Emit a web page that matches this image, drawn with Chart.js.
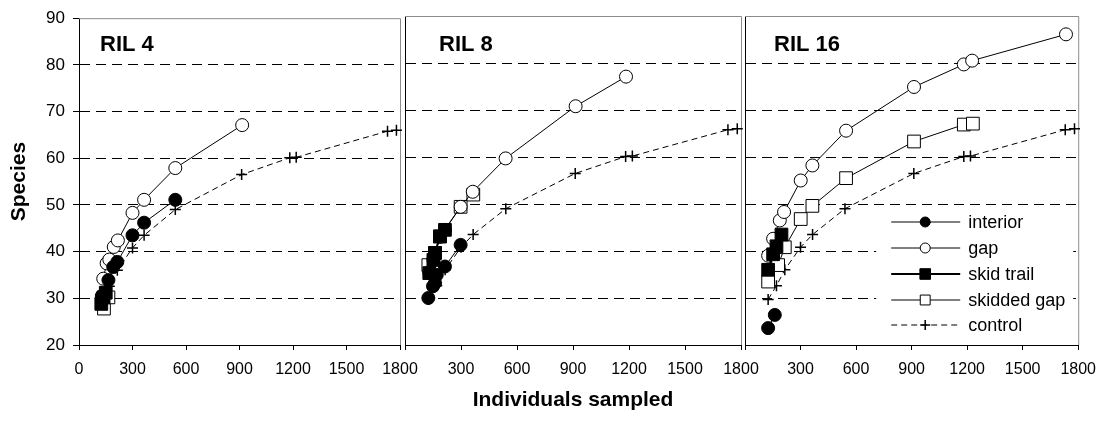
<!DOCTYPE html>
<html>
<head>
<meta charset="utf-8">
<script src="https://cdn.jsdelivr.net/npm/chart.js@4.4.0/dist/chart.umd.min.js"></script>
<style>
  html, body { margin: 0; padding: 0; background: #fff; overflow: hidden; }
  #wrap { position: relative; width: 1106px; height: 421px; }
  .panel { position: absolute; top: 0; height: 421px; }
</style>
</head>
<body>
<div id="wrap">
  <div class="panel" style="left:0;width:430px"><canvas id="c1"></canvas></div>
  <div class="panel" style="left:395px;width:376px"><canvas id="c2"></canvas></div>
  <div class="panel" style="left:735px;width:371px"><canvas id="c3"></canvas></div>
</div>
<script>
/* 種數累積曲線：三個面板 RIL 4 / RIL 8 / RIL 16 */

var X_MIN = 0, X_MAX = 1800, X_STEP = 300;
var Y_MIN = 20, Y_MAX = 90, Y_STEP = 10;
var SERIES_NAMES = ['interior', 'gap', 'skid trail', 'skidded gap', 'control'];
var PANEL_TITLES = ['RIL 4', 'RIL 8', 'RIL 16'];

// control 在三個面板相同
var control = [[125, 29.7], [170, 32.6], [215, 36], [300, 40.8], [365, 43.5], [540, 49],
               [912, 56.5], [1182, 60.1], [1218, 60.2], [1730, 65.8], [1780, 66]];

var ril4Interior   = [[128, 30.5], [165, 33.9], [192, 36.7], [215, 37.8], [300, 43.5], [365, 46.2], [540, 51.1]];
var ril4Gap        = [[136, 34.2], [155, 37.5], [170, 38.3], [195, 41], [218, 42.4], [300, 48.3], [365, 51.1], [540, 57.9], [915, 67.1]];
var ril4SkidTrail  = [[125, 28.8], [138, 30.2], [150, 31.2]];
var ril4SkiddedGap = [[140, 27.8], [165, 30.2]];

var ril8Interior   = [[125, 30], [150, 32.5], [161, 33.2], [170, 34.9], [214, 36.7], [298, 41.3]];
var ril8Gap        = [[130, 35.5], [152, 38.1], [187, 43], [214, 44.5], [298, 49.4], [363, 52.6], [539, 59.7], [914, 70.8], [1184, 77.1]];
var ril8SkidTrail  = [[130, 35.3], [152, 38.1], [161, 39.6], [187, 43.1], [214, 44.5]];
var ril8SkiddedGap = [[125, 37], [161, 39.6], [187, 43.1], [298, 49.4], [366, 52]];

var ril16Interior   = [[125, 23.6], [161, 26.4]];
var ril16Gap        = [[125, 39], [152, 42.6], [188, 46.5], [211, 48.3], [301, 55], [364, 58.2], [546, 65.6], [913, 74.9], [1182, 79.7], [1227, 80.5], [1734, 86.1]];
var ril16SkidTrail  = [[125, 36], [152, 39.3], [170, 41], [197, 43.5]];
var ril16SkiddedGap = [[125, 33.5], [179, 37], [215, 40.8], [301, 46.8], [364, 49.6], [546, 55.5], [913, 63.3], [1182, 66.9], [1231, 67.1]];

var FONT = '"Liberation Sans", Arial, sans-serif';

// 每個系列的樣式（同順序於 SERIES_NAMES）；order 越小越上層
var STYLES = [
  { pointStyle: 'circle', pointRadius: 6.5, fill: '#000', lineWidth: 1, dash: [],     order: 1 },
  { pointStyle: 'circle', pointRadius: 6.5, fill: 'rgba(255,255,255,0)', lineWidth: 1, dash: [], order: 2 },
  { pointStyle: 'rect',   pointRadius: 9,   fill: '#000', lineWidth: 2, dash: [],     order: 0 },
  { pointStyle: 'rect',   pointRadius: 9,   fill: '#fff', lineWidth: 1, dash: [],     order: 3 },
  { pointStyle: 'cross',  pointRadius: 5.5, fill: '#000', lineWidth: 1, dash: [6, 4], order: 4 },
];

function pts(arr) {
  return arr.map(function (p) { return { x: p[0], y: p[1] }; });
}

function buildDatasets(seriesList) {
  return seriesList.map(function (s, i) {
    var st = STYLES[i];
    return {
      label:                SERIES_NAMES[i],
      data:                 pts(s),
      order:                st.order,
      showLine:             true,
      borderColor:          '#000',
      borderWidth:          st.lineWidth,
      borderDash:           st.dash,
      pointStyle:           st.pointStyle,
      pointRadius:          st.pointRadius,
      pointBackgroundColor: i === 1 ? '#fff' : st.fill,
      pointBorderColor:     '#000',
      pointBorderWidth:     st.pointStyle === 'cross' ? 1.5 : 1,
      clip:                 false,
    };
  });
}

/* 面板外框（灰色上/右邊）與面板標題 */
var panelDecor = {
  id: 'panelDecor',
  beforeDatasetsDraw: function (chart, args, opts) {
    var a = chart.chartArea, ctx = chart.ctx;
    ctx.save();
    ctx.strokeStyle = '#8c8c8c';
    ctx.lineWidth = 1;
    ctx.beginPath();
    ctx.moveTo(a.left, a.top + 0.5);
    ctx.lineTo(a.right + 0.5, a.top + 0.5);
    ctx.lineTo(a.right + 0.5, a.bottom);
    ctx.stroke();
    ctx.fillStyle = '#000';
    ctx.font = 'bold 22px ' + FONT;
    ctx.textBaseline = 'alphabetic';
    ctx.fillText(opts.label, a.left + opts.labelOffset, 50.5);
    ctx.restore();
  }
};

/* 圖例：畫在第三面板右下角 */
var cornerLegend = {
  id: 'cornerLegend',
  afterDraw: function (chart) {
    var a = chart.chartArea, ctx = chart.ctx;
    var rows = [-123, -97, -71, -45, -20];
    var legendRadius = [5, 5, 7.5, 7, 5];
    ctx.save();
    ctx.fillStyle = '#fff';
    ctx.fillRect(a.right - 202, a.bottom - 137, 197, 130);
    ctx.font = '18px ' + FONT;
    ctx.textBaseline = 'middle';
    for (var i = 0; i < SERIES_NAMES.length; i++) {
      var st = STYLES[i];
      var y = a.bottom + rows[i];
      ctx.strokeStyle = '#000';
      ctx.lineWidth = st.lineWidth;
      ctx.setLineDash(st.dash);
      ctx.beginPath();
      ctx.moveTo(a.right - 187, y);
      ctx.lineTo(a.right - 118, y);
      ctx.stroke();
      ctx.setLineDash([]);
      ctx.fillStyle = i === 1 ? '#fff' : st.fill;
      ctx.lineWidth = st.pointStyle === 'cross' ? 1.5 : 1;
      Chart.helpers.drawPoint(ctx, {
        pointStyle: st.pointStyle, radius: legendRadius[i], rotation: 0,
        borderWidth: ctx.lineWidth
      }, a.right - 153, y);
      ctx.fillStyle = '#000';
      ctx.fillText(SERIES_NAMES[i], a.right - 110, y + 1);
    }
    ctx.restore();
  }
};

function makePanel(canvasId, index, seriesList, labelOffset) {
  var first = index === 0;
  var middle = index === 1;
  var last = index === 2;
  var plugins = [panelDecor];
  if (last) plugins.push(cornerLegend);

  return new Chart(document.getElementById(canvasId), {
    type: 'scatter',
    data: { datasets: buildDatasets(seriesList) },
    plugins: plugins,
    options: {
      responsive:          true,
      maintainAspectRatio: false,
      animation:           false,
      layout: { padding: { top: 16, right: last ? 26 : 30, left: 0, bottom: 0 } },
      plugins: {
        legend:  { display: false },
        tooltip: { enabled: false },
        panelDecor: { label: PANEL_TITLES[index], labelOffset: labelOffset },
      },
      scales: {
        x: {
          type: 'linear',
          min: X_MIN, max: X_MAX,
          afterFit: function (scale) { scale.height = 76; },
          ticks: {
            stepSize: X_STEP,
            autoSkip: false,
            maxRotation: 0,
            padding: 10,
            color: '#000',
            font: { family: FONT, size: 16 },
            callback: function (v) { return (!first && v === 0) ? '' : String(v); },
          },
          grid: { drawOnChartArea: false, drawTicks: true, tickLength: 5, tickColor: '#000' },
          border: { color: '#000', width: 1 },
          title: {
            display: middle,
            text: 'Individuals sampled',
            color: '#000',
            font: { family: FONT, size: 21, weight: 'bold' },
            padding: { top: 0, bottom: 8 },
          },
        },
        y: {
          type: 'linear',
          min: Y_MIN, max: Y_MAX,
          afterFit: function (scale) { scale.width = first ? 79 : 10; },
          ticks: {
            display: first,
            stepSize: Y_STEP,
            padding: 8,
            color: '#000',
            font: { family: FONT, size: 17 },
          },
          grid: {
            drawTicks: first,
            tickLength: 6,
            tickColor: '#000',
            color: function (ctx) {
              var v = ctx.tick ? ctx.tick.value : null;
              return (v === Y_MIN || v === Y_MAX) ? 'rgba(0,0,0,0)' : '#000';
            },
          },
          border: { color: '#000', width: 1, dash: [10, 6] },
          title: {
            display: first,
            text: 'Species',
            color: '#000',
            font: { family: FONT, size: 21, weight: 'bold' },
            padding: { top: 7, bottom: 0 },
          },
        },
      },
    },
  });
}

makePanel('c1', 0, [ril4Interior, ril4Gap, ril4SkidTrail, ril4SkiddedGap, control], 21);
makePanel('c2', 1, [ril8Interior, ril8Gap, ril8SkidTrail, ril8SkiddedGap, control], 34);
makePanel('c3', 2, [ril16Interior, ril16Gap, ril16SkidTrail, ril16SkiddedGap, control], 29);
</script>
</body>
</html>
